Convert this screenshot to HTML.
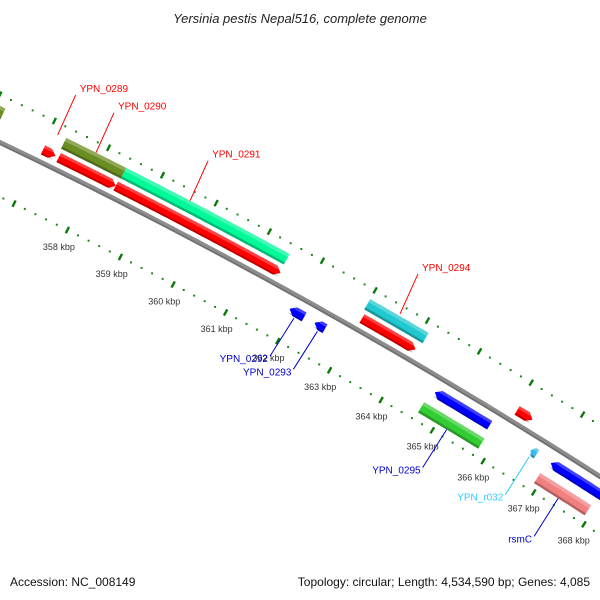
<!DOCTYPE html>
<html><head><meta charset="utf-8"><style>
html,body{margin:0;padding:0;background:#fff;}
svg{display:block;font-family:"Liberation Sans","DejaVu Sans",sans-serif;}
</style></head><body>
<svg id="map" width="600" height="600" viewBox="0 0 600 600" xmlns="http://www.w3.org/2000/svg">
<rect width="600" height="600" fill="#fff"/>
<text x="300" y="23" text-anchor="middle" font-size="13" font-style="italic" fill="#222">Yersinia pestis Nepal516, complete genome</text>
<g id="rings"></g>
<g id="backbone"></g>
<g id="feats"></g>
<g id="labels"></g>
<text x="10" y="586" font-size="12" fill="#111">Accession: NC_008149</text>
<text x="590" y="586" text-anchor="end" font-size="12" fill="#111">Topology: circular; Length: 4,534,590 bp; Genes: 4,085</text>
</svg>
<script>
// data
const featNames  = ["YPN_0288","YPN_0289","YPN_0290","YPN_0290b","YPN_0291","YPN_0291b","YPN_0292","YPN_0293","YPN_0294","YPN_0294b","YPN_0296","YPN_0295","YPN_0297","YPN_r032","YPN_0298","rsmC"];
const featStart  = [355.0, 357.04, 357.30, 357.33, 358.41, 358.39, 361.91, 362.39, 363.0, 363.04, 364.71, 364.64, 366.04, 366.58, 366.98, 366.92];
const featEnd    = [356.18, 357.27, 358.41, 358.39, 361.47, 361.49, 362.19, 362.59, 364.12, 364.07, 365.78, 365.82, 366.34, 366.70, 368.6, 367.93];
const featStrand = [0, 1, 0, 1, 0, 1, -1, -1, 0, 1, -1, 0, 1, -1, -1, 0];
const featTrack  = [27, 12, 27, 12, 27, 12, -15, -15, 27, 12, -15, -35, 12, -15, -15, -35];
const featColor  = ["#6b8e23","#ff0000","#6b8e23","#ff0000","#00fa9a","#ff0000","#0000ff","#0000ff","#20c8d0","#ff0000","#0000ff","#33cc33","#ff0000","#33bbee","#0000ff","#f08080"];
const labelText  = ["YPN_0289","YPN_0290","YPN_0291","YPN_0294","YPN_0292","YPN_0293","YPN_0295","YPN_r032","rsmC"];
const labelColor = ["#ff0000","#ff0000","#ff0000","#ff0000","#0000cc","#0000cc","#0000cc","#33ccff","#0000cc"];
const labelKbp   = [357.15, 357.85, 359.6, 363.55, 362.05, 362.5, 365.2, 366.62, 367.4];
const labelTrack = [32, 33, 33, 35, -21, -21, -41, -21, -41];
const tickKbps   = [355,356,357,358,359,360,361,362,363,364,365,366,367,368,369];
const labeledTicks = [358,359,360,361,362,363,364,365,366,367,368];

// axis functions (circle geometry)
const CX=-2431, CY=5215, R=5625, PHI0=-1.1062, DPHI=0.010667;
function P(kbp, off){
  const a = PHI0 + (kbp-358)*DPHI, r = R+off;
  return [CX + r*Math.cos(a), CY + r*Math.sin(a)];
}
const NS="http://www.w3.org/2000/svg";
function mk(tag, attrs, parent){
  const e=document.createElementNS(NS,tag);
  for(const k in attrs) e.setAttribute(k, attrs[k]);
  parent.appendChild(e); return e;
}
function pts(arr){return arr.map(p=>p[0].toFixed(1)+","+p[1].toFixed(1)).join(" ");}

// rings
const rings=document.getElementById('rings');
[43,-49].forEach(off=>{
  for(let k=354.0;k<=370.0001;k+=0.2){
    const isMajor = Math.abs(k-Math.round(k))<1e-6;
    if(isMajor) continue;
    const p=P(k,off);
    const d=mk('rect',{x:(p[0]-1).toFixed(1),y:(p[1]-1).toFixed(1),width:2,height:2,fill:'#1a8a1a'},rings);
    
    
  }
});
tickKbps.forEach(k=>{
  [43,-49].forEach(off=>{
    const a=P(k,off-3.5), b=P(k,off+3.5);
    const t=mk('line',{x1:a[0],y1:a[1],x2:b[0],y2:b[1],stroke:'#0a7a0a','stroke-width':2.4},rings);
    
    
  });
});
labeledTicks.forEach(k=>{
  const lp=P(k,-68);
  const tx=mk('text',{x:lp[0].toFixed(1),y:(lp[1]+3).toFixed(1),'text-anchor':'middle','font-size':'9',fill:'#333'},rings);
  tx.textContent=k+" kbp";
  
  
});

// backbone
const bb=document.getElementById('backbone');
function arcPath(off,k0,k1){
  const a=[];for(let k=k0;k<=k1;k+=0.25)a.push(P(k,off));
  return "M"+a.map(p=>p[0].toFixed(1)+" "+p[1].toFixed(1)).join(" L");
}
const b1=mk('path',{d:arcPath(0,354,370),stroke:'#8c8c8c','stroke-width':5,fill:'none'},bb);


const b2=mk('path',{d:arcPath(-1.5,354,370),stroke:'#6e6e6e','stroke-width':1.5,fill:'none'},bb);



// features
const fg=document.getElementById('feats');
function shape(s,e,strand,c,h){
  const o=c+h/2, i=c-h/2, ah=Math.min(0.1,(e-s)/2);
  const top=[],bot=[];
  const s2 = strand<0 ? s+ah : s, e2 = strand>0 ? e-ah : e;
  for(let k=s2;k<e2;k+=0.05){top.push(P(k,o));bot.push(P(k,i));}
  top.push(P(e2,o));bot.push(P(e2,i));
  let poly=[];
  if(strand<0) poly.push(P(s,c));
  poly=poly.concat(top);
  if(strand>0) poly.push(P(e,c));
  poly=poly.concat(bot.reverse());
  return poly;
}
for(let n=0;n<featNames.length;n++){
  const s=featStart[n],e=featEnd[n],st=featStrand[n],c=featTrack[n],col=featColor[n];
  const h = (c===27||c===-35)?12:10;
  const g=mk('g',{},fg);
  
  
  mk('polygon',{points:pts(shape(s,e,st,c,h)),fill:col},g);
  mk('polygon',{points:pts(shape(s,e,st,c+h*0.35,h*0.3)),fill:'#fff','fill-opacity':0.25},g);
  mk('polygon',{points:pts(shape(s,e,st,c-h*0.4,h*0.2)),fill:'#000','fill-opacity':0.25},g);
}

// labels with leader lines (leader length/direction fixed; anchored on feature)
const lg=document.getElementById('labels');
for(let n=0;n<labelText.length;n++){
  const off=labelTrack[n], out=off>0;
  const a=P(labelKbp[n],off);
  const b=[a[0]+(out?18:-24), a[1]+(out?-40:38)];
  const ln=mk('line',{x1:a[0].toFixed(1),y1:a[1].toFixed(1),x2:b[0].toFixed(1),y2:b[1].toFixed(1),stroke:labelColor[n],'stroke-width':1},lg);
  
  
  const t=mk('text',{x:(b[0]+(out?4:-2)).toFixed(1),y:(b[1]+(out?-3:6)).toFixed(1),'text-anchor':out?'start':'end','font-size':'10',fill:labelColor[n]},lg);
  t.textContent=labelText[n];
  
  
}
</script>
</body></html>
